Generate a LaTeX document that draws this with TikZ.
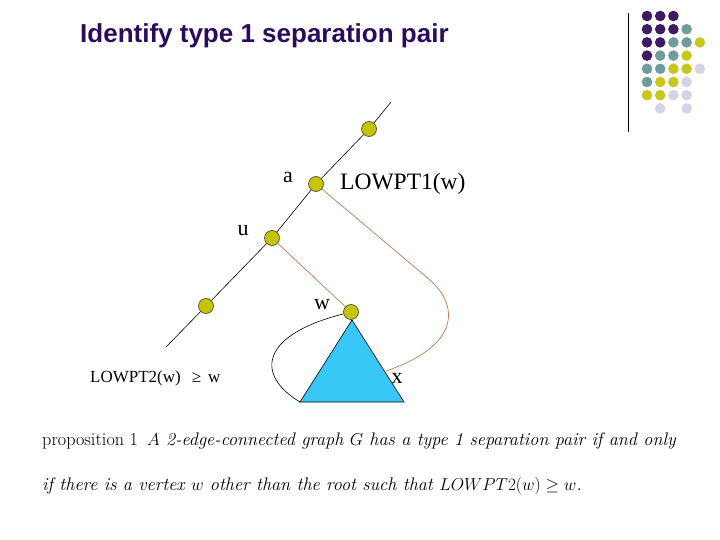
\documentclass[tikz,border=0pt]{standalone}
\usepackage{fontspec}
\usepackage{tikz}
\usetikzlibrary{positioning}
\newfontfamily\titlefont{Liberation Sans}
\newfontfamily\labelfont{Liberation Serif}
\definecolor{SlideTitle}{HTML}{2B0B5C}
\definecolor{SlidePurple}{HTML}{3D1A63}
\definecolor{SlideTeal}{HTML}{6F9C9E}
\definecolor{SlideOlive}{HTML}{C9C71E}
\definecolor{SlideLavender}{HTML}{D4D4E8}
\definecolor{TreeDot}{HTML}{C4C400}
\definecolor{FrondEdge}{HTML}{C47A4E}
\definecolor{SubtreeBlue}{HTML}{38C8F8}
\tikzset{
  treedot/.style={
    circle,
    draw=black!75,
    fill=TreeDot,
    line width=.6pt,
    minimum size=15pt,
    inner sep=0pt
  },
  treeedge/.style={draw=black,line width=.6pt},
  frond/.style={draw=FrondEdge,line width=.7pt},
  subtree/.style={draw=black,fill=SubtreeBlue,line width=.6pt},
  vlabel/.style={font=\labelfont\fontsize{22}{24}\selectfont,inner sep=0pt},
  smalllabel/.style={font=\labelfont\fontsize{17}{20}\selectfont,inner sep=0pt},
  proptext/.style={font=\fontsize{18.2}{21}\selectfont,inner sep=0pt,anchor=west}
}

\begin{document}
\begin{tikzpicture}[x=1pt,y=-1pt]
  \useasboundingbox (0,0) rectangle (720,540);
  % title and corner ornament
  \node[font=\titlefont\bfseries\fontsize{26}{30}\selectfont,text=SlideTitle,anchor=west,inner sep=0pt] (title) at (80,36) {Identify type 1 separation pair};
  \draw[line width=.8pt] (628,13) -- (628,132);
  \foreach \k/\r/\c in {0/0/SlidePurple,1/0/SlidePurple,2/0/SlidePurple,
      0/1/SlidePurple,1/1/SlidePurple,2/1/SlidePurple,3/1/SlideTeal,
      0/2/SlidePurple,1/2/SlidePurple,2/2/SlideTeal,3/2/SlideTeal,4/2/SlideOlive,
      0/3/SlidePurple,1/3/SlideTeal,2/3/SlideTeal,3/3/SlideOlive,
      0/4/SlideTeal,1/4/SlideTeal,2/4/SlideOlive,3/4/SlideOlive,4/4/SlideLavender,
      0/5/SlideTeal,1/5/SlideOlive,2/5/SlideOlive,3/5/SlideLavender,
      0/6/SlideOlive,1/6/SlideOlive,2/6/SlideLavender,3/6/SlideLavender,
      1/7/SlideLavender,3/7/SlideLavender}
    \fill[\c] ({647+13.2*\k},{16+13.2*\r}) circle[radius=5.3];

  % DFS tree path
  \coordinate (rootend) at (391,102);
  \coordinate (leafend) at (166,347);
  \node[treedot] (top) at (369,129) {};
  \node[treedot] (a) at (316,184) {};
  \node[treedot] (u) at (272,238) {};
  \node[treedot] (low) at (206,306) {};
  \draw[treeedge] (rootend) -- (top) -- (a) -- (u) -- (low) -- (leafend);

  % subtree below w
  \coordinate (apex) at (352,320);
  \coordinate (bl) at (300,402);
  \coordinate (br) at (404,402);
  \coordinate (xend) at (386,371);
  \coordinate (bend) at (430,280);
  \draw[subtree] (apex) -- (br) -- (bl) -- cycle;
  \node[treedot] (w) at (351,312) {};
  \draw[frond] (u) -- (w);
  \draw[treeedge] (w) .. controls (260,335) and (255,375) .. (bl);
  \draw[frond] (a) -- (bend) .. controls (458,305) and (462,345) .. (xend);

  % labels
  \node[vlabel] (alabel) at (288,177) {a};
  \node[vlabel,anchor=west,font=\labelfont\fontsize{23.5}{26}\selectfont] (lowone) at (340,184) {LOWPT1(w)};
  \node[vlabel] (ulabel) at (243,231) {u};
  \node[vlabel] (wlabel) at (322,305) {w};
  \node[vlabel] (xlabel) at (397,378) {x};
  \node[smalllabel,anchor=west] (lowtwo) at (90,378) {LOWPT2(w)\hspace{11pt}≥\hspace{7pt}w};

  % proposition
  \node[proptext] (propa) at (42,441) {proposition 1\enspace\textit{$A$ 2-edge-connected graph $G$ has a type 1 separation pair if and only}};
  \node[proptext] (propb) at (42,486) {\textit{if there is a vertex $w$ other than the root such that $LOWPT2(w)\geq w$.}};
\end{tikzpicture}
\end{document}
